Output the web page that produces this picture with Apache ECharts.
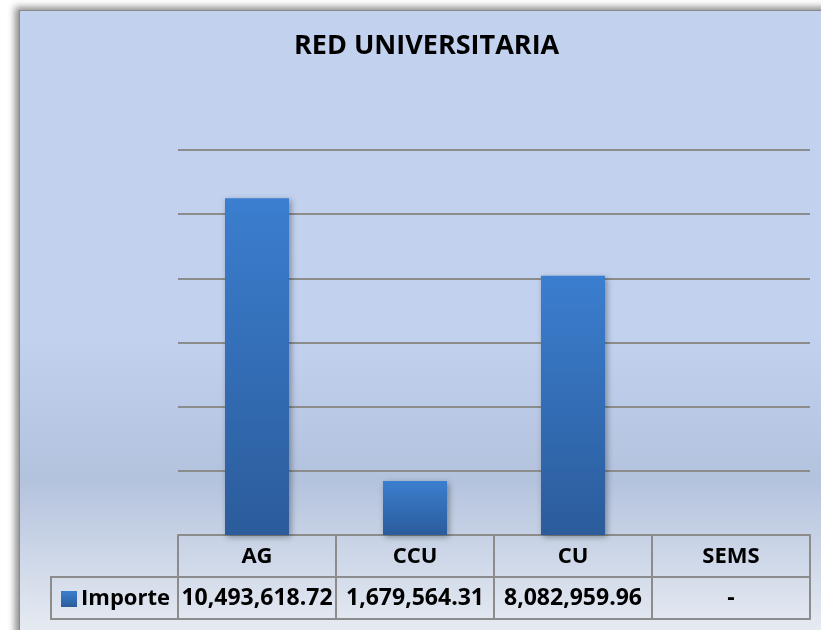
<!DOCTYPE html>
<html>
<head>
<meta charset="utf-8">
<script src="https://cdn.jsdelivr.net/npm/echarts@6/dist/echarts.min.js"></script>
<style>
  html, body { margin: 0; padding: 0; background: #fff; }
  #frame {
    position: absolute; left: 19px; top: 10px; width: 820px; height: 640px;
    border: 1px solid #8a8a8a;
    box-shadow: -4px -3px 7px rgba(0, 0, 0, 0.45);
    background: linear-gradient(to bottom, #c2d1ee 0%, #c2d1ee 51%, #b3c2dd 73%, #edf0f5 100%);
  }
  #main { position: absolute; left: 0; top: 0; width: 821px; height: 630px; }
</style>
</head>
<body>
<div id="frame"></div>
<div id="main"></div>
<script>
// datos
const titulo = "RED UNIVERSITARIA";
const categorias = ["AG", "CCU", "CU", "SEMS"];
const importe = [10493618.72, 1679564.31, 8082959.96, 0];
const serieNombre = "Importe";

// layout
const gridLeft = 178, gridRight = 11, gridTop = 150, baseY = 535, rowH = 42;
const legendLeft = 51;
const lineColor = "#8c8c8c";
const font = "'Open Sans', sans-serif";

function fmt(v) {
  if (!v) return "-";
  return v.toLocaleString("en-US", { minimumFractionDigits: 2, maximumFractionDigits: 2 });
}

const chart = echarts.init(document.getElementById("main"));

chart.setOption({
  backgroundColor: "transparent",
  animation: false,
  title: {
    text: titulo,
    left: 294,
    top: 33,
    padding: 0,
    textStyle: { fontFamily: font, fontWeight: "bold", fontSize: 27, color: "#000" },
  },
  legend: {
    data: [serieNombre],
    left: legendLeft + 5,
    top: baseY + rowH + 6,
    itemWidth: 16,
    itemHeight: 16,
    itemGap: 4,
    icon: "rect",
    textStyle: { fontFamily: font, fontWeight: "bold", fontSize: 22, color: "#000", padding: [0, 0, 0, -1] },
  },
  grid: { left: gridLeft, right: gridRight, top: gridTop, bottom: 630 - baseY },
  xAxis: [
    {
      type: "category",
      data: categorias,
      axisLine: { show: true, lineStyle: { color: lineColor, width: 2 } },
      axisTick: { show: true, interval: 0, length: rowH * 2, lineStyle: { color: lineColor, width: 2 } },
      axisLabel: {
        interval: 0,
        margin: rowH / 2 + 1,
        verticalAlign: "middle",
        fontFamily: font, fontWeight: "bold", fontSize: 22, color: "#000",
      },
    },
    {
      type: "category",
      data: categorias,
      position: "bottom",
      offset: rowH,
      axisLine: { show: true, lineStyle: { color: lineColor, width: 2 } },
      axisTick: { show: false },
      axisLabel: {
        interval: 0,
        margin: rowH / 2,
        verticalAlign: "middle",
        fontFamily: font, fontWeight: "bold", fontSize: 23, color: "#000",
        formatter: (v, i) => fmt(importe[i]),
      },
    },
    {
      type: "category",
      data: categorias,
      position: "bottom",
      offset: rowH * 2,
      axisLine: { show: true, lineStyle: { color: lineColor, width: 2 } },
      axisTick: { show: false },
      axisLabel: { show: false },
    },
  ],
  yAxis: {
    type: "value",
    min: 0,
    max: 12000000,
    interval: 2000000,
    axisLine: { show: false },
    axisTick: { show: false },
    axisLabel: { show: false },
    splitLine: { lineStyle: { color: lineColor, width: 2 } },
  },
  graphic: [
    {
      type: "rect",
      shape: { x: legendLeft, y: baseY + rowH, width: gridLeft - legendLeft, height: rowH },
      style: { fill: "none", stroke: lineColor, lineWidth: 2 },
      z: 1,
    },
  ],
  series: [
    {
      name: serieNombre,
      type: "bar",
      data: importe,
      barWidth: 64,
      itemStyle: {
        color: new echarts.graphic.LinearGradient(0, 0, 0, 1, [
          { offset: 0, color: "#3b7ecf" },
          { offset: 1, color: "#2b5c9b" },
        ]),
        shadowBlur: 6,
        shadowColor: "rgba(0,0,0,0.35)",
        shadowOffsetX: 2,
        shadowOffsetY: 2,
      },
    },
  ],
});
</script>
</body>
</html>
